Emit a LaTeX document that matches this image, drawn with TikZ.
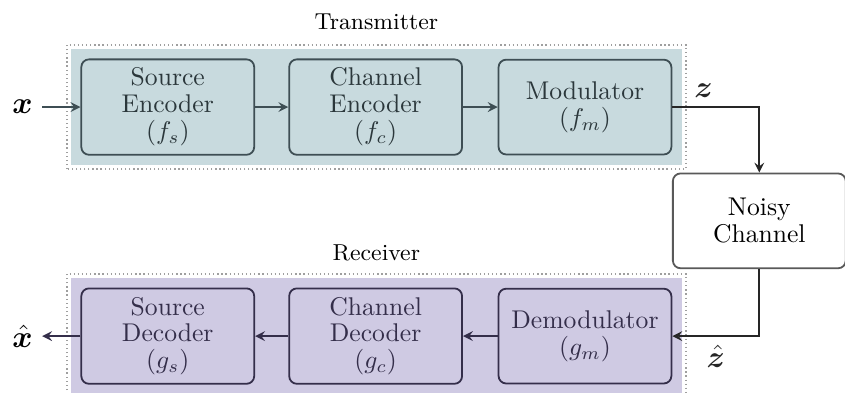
\documentclass[tikz,border=0pt]{standalone}
\usepackage{amsmath}
\usepackage{amssymb}
\usepackage{bm}
\usepackage{tikz}
\usetikzlibrary{arrows.meta}
\usetikzlibrary{calc}
\usetikzlibrary{fit,backgrounds}
\definecolor{txfill}{RGB}{200,218,222}
\definecolor{rxfill}{RGB}{207,202,227}
\definecolor{txdark}{RGB}{62,78,84}
\definecolor{rxdark}{RGB}{52,46,74}

\begin{document}
\begin{tikzpicture}[>=stealth, line width=0.7pt,
  blk/.style={draw, rounded corners=3pt, minimum width=2.37cm, minimum height=1.3cm,
    align=center, font=\fontsize{10}{10.5}\selectfont},
  txblk/.style={blk, draw=txdark, text=txdark!70!black},
  rxblk/.style={blk, draw=rxdark, text=rxdark},
  region/.style={inner sep=3.6pt},
  dotbox/.style={draw=gray!75, line width=0.6pt, dash pattern=on 0.5pt off 1.1pt},
  sig/.style={font=\large},
  lbl/.style={font=\small}]
\useasboundingbox (0,0) rectangle (11.585,5.388);
\node[txblk] (senc) at (2.30, 3.92) {Source\\Encoder\\$(f_s)$};
\node[txblk] (cenc) at (5.15, 3.92) {Channel\\Encoder\\$(f_c)$};
\node[txblk] (mod)  at (8.02, 3.92) {Modulator\\$(f_m)$};
\node[rxblk] (sdec) at (2.30, 0.78) {Source\\Decoder\\$(g_s)$};
\node[rxblk] (cdec) at (5.15, 0.78) {Channel\\Decoder\\$(g_c)$};
\node[rxblk] (demod) at (8.02, 0.78) {Demodulator\\$(g_m)$};
\node[blk, draw=black!65] (noisy) at (10.41, 2.36) {Noisy\\Channel};
\node[sig] (x)    at (0.31, 3.92) {$\boldsymbol{x}$};
\node[sig] (xhat) at (0.31, 0.78) {$\hat{\boldsymbol{x}}$};
\begin{scope}[on background layer]
  \node[region, fill=txfill, fit=(senc)(cenc)(mod)] (tx) {};
  \node[region, fill=rxfill, fit=(sdec)(cdec)(demod)] (rx) {};
  \draw[dotbox] ($(tx.south west)+(-1.5pt,-1.5pt)$) rectangle ($(tx.north east)+(1.5pt,1.5pt)$);
  \draw[dotbox] ($(rx.south west)+(-1.5pt,-1.5pt)$) rectangle ($(rx.north east)+(1.5pt,1.5pt)$);
\end{scope}
\node[lbl] (txlbl) at (tx.north |- 0,5.09) {Transmitter};
\node[lbl] (rxlbl) at (rx.north |- 0,1.92) {Receiver};
 \draw [->, txdark] (x)--(senc);
 \draw [->, txdark] (senc)--(cenc);
 \draw [->, txdark] (cenc)--(mod);
 \draw [->, black!85] (mod) -| (noisy) node[pos=0.18, above, sig]{$\boldsymbol{z}$};
 \draw [->, black!85] (noisy) |- (demod) node[pos=0.75, below, sig]{$\hat{\boldsymbol{z}}$};
 \draw [->, rxdark] (demod)--(cdec);
 \draw [->, rxdark] (cdec)--(sdec);
 \draw [->, rxdark] (sdec)--(xhat);
\end{tikzpicture}
\end{document}
